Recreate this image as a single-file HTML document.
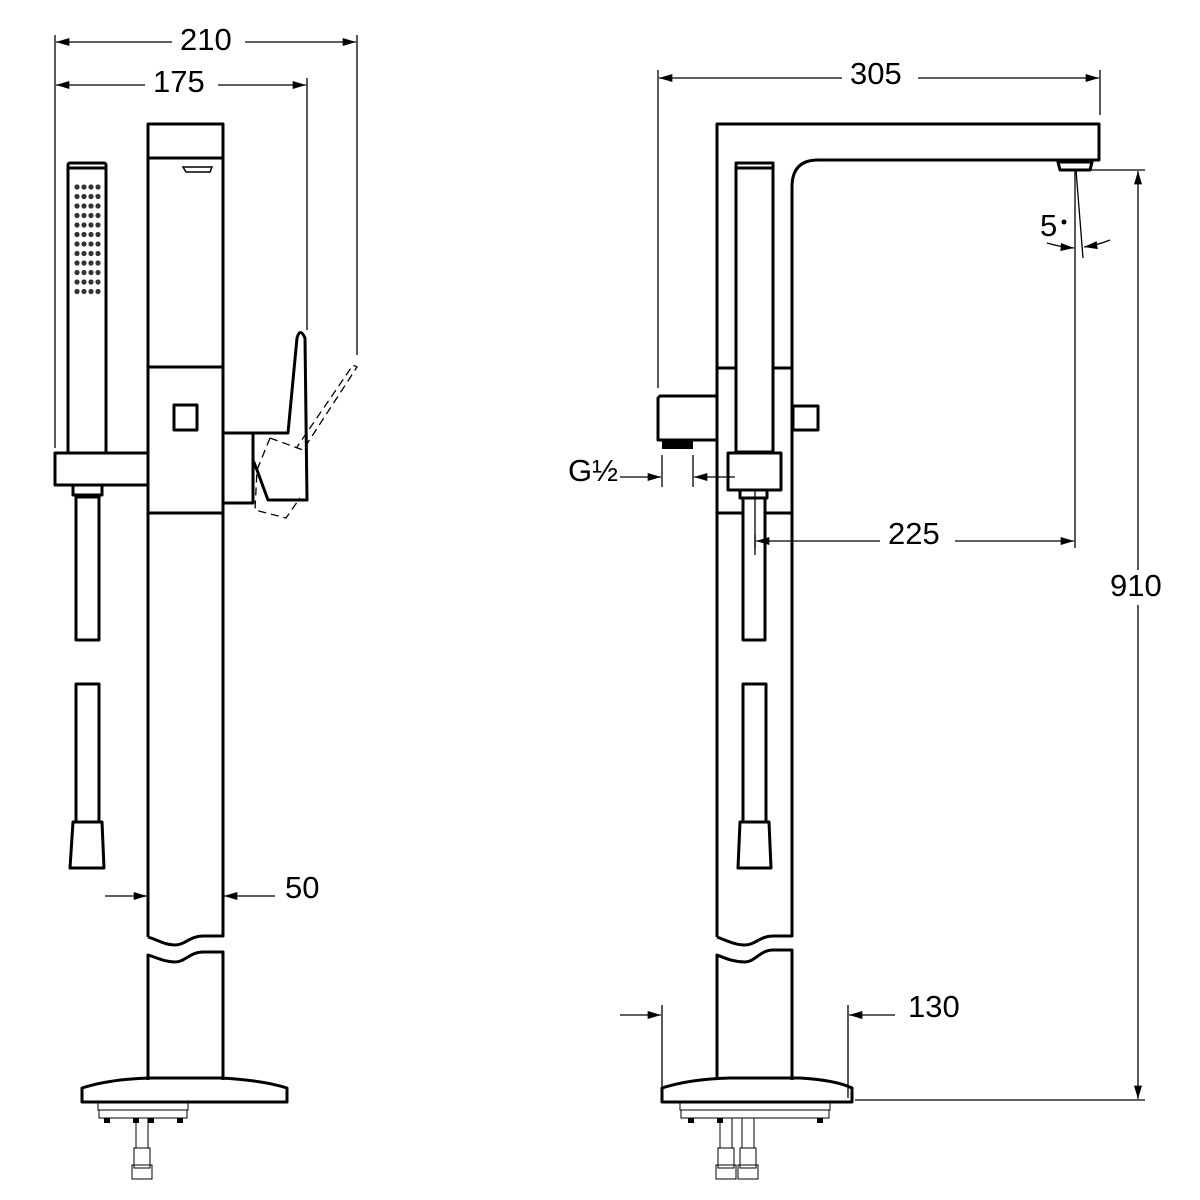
<!DOCTYPE html>
<html><head><meta charset="utf-8"><style>
html,body{margin:0;padding:0;background:#fff}
svg{display:block}
text{font-family:"Liberation Sans",sans-serif;font-size:31px;fill:#000}
</style></head><body>
<svg width="1200" height="1200" viewBox="0 0 1200 1200" xmlns="http://www.w3.org/2000/svg">
<defs>
<marker id="a" viewBox="0 0 10 6" refX="10" refY="3" markerWidth="14" markerHeight="8" markerUnits="userSpaceOnUse" orient="auto"><path d="M0,0 L10,3 L0,6 z" fill="#000"/></marker>
</defs>
<g fill="none" stroke="#000" stroke-width="1.3">
<line x1="55" y1="35" x2="55" y2="448"/>
<line x1="357" y1="35" x2="357" y2="355"/>
<line x1="307" y1="78" x2="307" y2="330"/>
<line x1="172" y1="42" x2="56" y2="42" marker-end="url(#a)"/>
<line x1="245" y1="42" x2="356" y2="42" marker-end="url(#a)"/>
<line x1="145" y1="85" x2="56" y2="85" marker-end="url(#a)"/>
<line x1="218" y1="85" x2="306" y2="85" marker-end="url(#a)"/>
<line x1="105" y1="896" x2="147" y2="896" marker-end="url(#a)"/>
<line x1="275" y1="896" x2="224" y2="896" marker-end="url(#a)"/>
<line x1="658" y1="70" x2="658" y2="388"/>
<line x1="1100" y1="70" x2="1100" y2="115"/>
<line x1="842" y1="78" x2="659" y2="78" marker-end="url(#a)"/>
<line x1="918" y1="78" x2="1099" y2="78" marker-end="url(#a)"/>
<line x1="1080" y1="170" x2="1145" y2="170"/>
<line x1="855" y1="1100" x2="1145" y2="1100"/>
<line x1="1138" y1="570" x2="1138" y2="171" marker-end="url(#a)"/>
<line x1="1138" y1="605" x2="1138" y2="1099" marker-end="url(#a)"/>
<line x1="1075" y1="170" x2="1075" y2="548"/>
<line x1="1076" y1="170" x2="1083" y2="258"/>
<line x1="755" y1="535" x2="755" y2="548"/>
<line x1="880" y1="541" x2="756" y2="541" marker-end="url(#a)"/>
<line x1="955" y1="541" x2="1074" y2="541" marker-end="url(#a)"/>
<path d="M1047,243 Q1060,247 1074,248" marker-end="url(#a)"/>
<path d="M1110,240 Q1098,245 1084,247" marker-end="url(#a)"/>
<line x1="662" y1="455" x2="662" y2="487"/>
<line x1="693" y1="455" x2="693" y2="487"/>
<line x1="620" y1="477" x2="661" y2="477" marker-end="url(#a)"/>
<line x1="735" y1="477" x2="694" y2="477" marker-end="url(#a)"/>
<line x1="662" y1="1005" x2="662" y2="1098"/>
<line x1="848" y1="1005" x2="848" y2="1098"/>
<line x1="620" y1="1015" x2="661" y2="1015" marker-end="url(#a)"/>
<line x1="895" y1="1015" x2="849" y2="1015" marker-end="url(#a)"/>
<path d="M270,438 L303,450 L357,367 L353,365 L297,447" stroke-dasharray="8,5"/>
<path d="M270,438 L257,470 L255,510 L286,518 L300,498" stroke-dasharray="8,5"/>
</g>

<g fill="none" stroke="#000" stroke-width="3" stroke-linejoin="round">
<path d="M148,937 L148,124 L223,124 L223,936 L203,936 C190,936 185,945 175,945 C165,945 158,940 148,937"/>
<line x1="148" y1="158" x2="223" y2="158"/>
<line x1="148" y1="367" x2="223" y2="367"/>
<line x1="148" y1="513" x2="223" y2="513"/>
<rect x="174" y="405" width="23" height="25"/>
<path d="M148,1080 L148,955 C158,958 165,962 175,962 C185,962 190,952 203,952 L223,952 L223,1080"/>
<path d="M82,1102 L82,1088 Q110,1079 150,1078 L220,1078 Q262,1080 287,1088 L287,1102 Z"/>
<rect x="68" y="163" width="38" height="290" rx="2"/>
<line x1="68" y1="168" x2="106" y2="168"/>
<rect x="55" y="453" width="93" height="32"/>
<path d="M73,485 L73,495 L102,495 L102,485"/>
<rect x="76" y="497" width="23" height="143"/>
<rect x="76" y="684" width="23" height="138"/>
<path d="M73,822 L102,822 L104,868 L70,868 Z"/>
<rect x="223" y="433" width="30" height="70"/>
<path d="M253,433 L288,433 L297,338 Q300,327 305,338 L307,500 L268,500 L257,470 L253,460"/>
<path d="M717,937 L717,124 L1099,124 L1099,160 L818,160 Q792,160 792,187 L792,936 L773,936 C760,936 755,945 745,945 C735,945 725,940 717,937"/>
<line x1="717" y1="368" x2="736" y2="368"/>
<line x1="773" y1="368" x2="792" y2="368"/>
<line x1="717" y1="513" x2="743" y2="513"/>
<line x1="766" y1="513" x2="792" y2="513"/>
<rect x="736" y="163" width="37" height="289"/>
<line x1="736" y1="168" x2="773" y2="168"/>
<rect x="793" y="406" width="25" height="24"/>
<path d="M717,396 L660,396 L658,398 L658,440 L717,440"/>
<path d="M1058,162 L1092,162 L1090,170 L1060,170 Z"/>
<rect x="728" y="453" width="53" height="37"/>
<path d="M740,490 L740,498 L767,498 L767,490"/>
<rect x="743" y="498" width="22" height="142"/>
<rect x="743" y="684" width="23" height="138"/>
<path d="M740,822 L769,822 L771,868 L738,868 Z"/>
<path d="M717,1080 L717,955 C725,958 733,962 745,962 C755,962 760,950 773,950 L792,950 L792,1080"/>
<path d="M662,1102 L662,1088 Q690,1079 730,1078 L800,1078 Q835,1080 852,1088 L852,1102 Z"/>
</g>
<rect x="662" y="440" width="31" height="9" fill="#000"/>
<line x1="755" y1="490" x2="755" y2="555" stroke="#000" stroke-width="1.3"/>
<line x1="773" y1="250" x2="773" y2="295" stroke="#000" stroke-width="1.3" stroke-dasharray="2,2"/>
<path d="M183,167 L212,167 L210,172 L186,172 Z" fill="none" stroke="#000" stroke-width="1.5"/>
<g fill="#333" id="dots"></g>
<g fill="none" stroke="#000" stroke-width="1">
<rect x="98" y="1102" width="90" height="8"/>
<rect x="99" y="1110" width="88" height="8"/>
<rect x="136" y="1118" width="12" height="30"/>
<rect x="134" y="1148" width="16" height="20"/>
<rect x="132" y="1165" width="20" height="14"/>
<rect x="680" y="1102" width="150" height="8"/>
<rect x="681" y="1110" width="148" height="8"/>
<rect x="720" y="1118" width="12" height="30"/>
<rect x="742" y="1118" width="12" height="30"/>
<rect x="718" y="1148" width="16" height="20"/>
<rect x="740" y="1148" width="16" height="20"/>
<rect x="716" y="1165" width="20" height="14"/>
<rect x="738" y="1165" width="20" height="14"/>
</g>
<g fill="#000">
<rect x="104" y="1118" width="6" height="5"/><rect x="133" y="1118" width="6" height="5"/><rect x="148" y="1118" width="6" height="5"/><rect x="177" y="1118" width="6" height="5"/>
<rect x="688" y="1118" width="6" height="5"/><rect x="717" y="1118" width="6" height="5"/><rect x="817" y="1118" width="6" height="5"/>
</g>
<text x="180" y="50">210</text>
<text x="153" y="92">175</text>
<text x="285" y="898">50</text>
<text x="850" y="84">305</text>
<text x="888" y="544">225</text>
<text x="1110" y="596">910</text>
<text x="908" y="1017">130</text>
<text x="1040" y="236" font-size="27">5</text>
<circle cx="1064" cy="222" r="2.5" fill="#000"/>
<text x="568" y="481" font-size="29">G½</text>
</svg>
<script>
var g=document.getElementById('dots');var s='';
for(var r=0;r<12;r++)for(var c=0;c<4;c++){s+='<circle cx="'+(77+c*7)+'" cy="'+(187+r*9.5)+'" r="2.6" fill="#333"/>';}
g.innerHTML=s;
</script>
</body></html>
